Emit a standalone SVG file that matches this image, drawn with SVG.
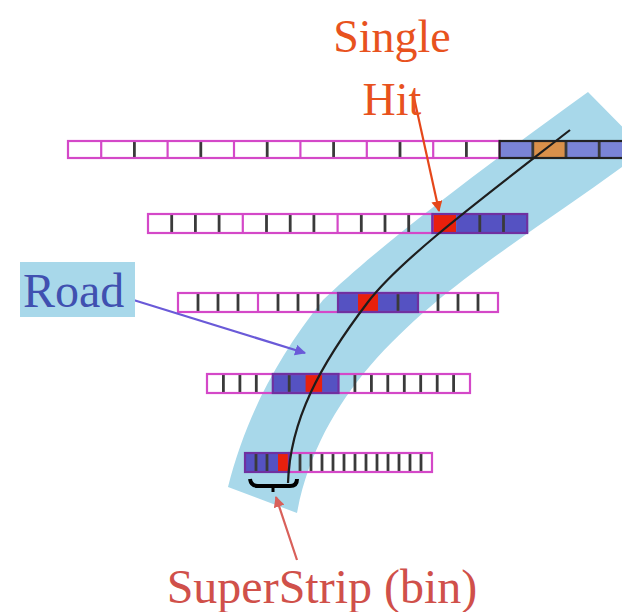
<svg xmlns="http://www.w3.org/2000/svg" width="622" height="612" viewBox="0 0 622 612">
<style>
.row{fill:none;stroke:#d448c8;stroke-width:2.2}
.seg{fill:none;stroke:#7030a0;stroke-width:2.2}
.segk{fill:none;stroke:#222;stroke-width:2.2}
.sd{stroke:#3a3a3a;stroke-width:2.8}
.sm{stroke:#d448c8;stroke-width:2.2}
.blue{fill:#5552c2}
.blue1{fill:#7a84d6}
.red{fill:#e8200c}
.org{fill:#d9904a}
.lbl{font-family:"Liberation Serif","Times New Roman",serif}
</style>
<defs>
<marker id="ahOr" viewBox="0 0 10 10" refX="9" refY="5" markerWidth="5" markerHeight="5" orient="auto-start-reverse" markerUnits="strokeWidth"><path d="M0,0 L10,5 L0,10 z" fill="#e5471a"/></marker>
<marker id="ahBl" viewBox="0 0 10 10" refX="9" refY="5" markerWidth="5" markerHeight="5" orient="auto-start-reverse" markerUnits="strokeWidth"><path d="M0,0 L10,5 L0,10 z" fill="#6a5ad8"/></marker>
<marker id="ahRd" viewBox="0 0 10 10" refX="9" refY="5" markerWidth="5" markerHeight="5" orient="auto-start-reverse" markerUnits="strokeWidth"><path d="M0,0 L10,5 L0,10 z" fill="#d9605a"/></marker>
</defs>

<g id="road-band">
<path d="M588,92 L645,150 C 500,260 330,340 297,513 L228,487 C 245,420 275,360 323,300 C 380,245 480,170 588,92 Z" fill="#a8d8ea"/>
</g>

<g id="row1">
<rect class="blue1" x="499.6" y="141" width="33.2" height="17"/>
<rect class="org" x="532.8" y="141" width="33.2" height="17"/>
<rect class="blue1" x="566" y="141" width="33.2" height="17"/>
<rect class="blue1" x="599.2" y="141" width="33.2" height="17"/>
<g>
<line class="sm" x1="101.2" y1="141" x2="101.2" y2="158"/>
<line class="sd" x1="134.4" y1="141" x2="134.4" y2="158"/>
<line class="sm" x1="167.6" y1="141" x2="167.6" y2="158"/>
<line class="sd" x1="200.8" y1="141" x2="200.8" y2="158"/>
<line class="sm" x1="234" y1="141" x2="234" y2="158"/>
<line class="sd" x1="267.2" y1="141" x2="267.2" y2="158"/>
<line class="sm" x1="300.4" y1="141" x2="300.4" y2="158"/>
<line class="sd" x1="333.6" y1="141" x2="333.6" y2="158"/>
<line class="sm" x1="366.8" y1="141" x2="366.8" y2="158"/>
<line class="sd" x1="400" y1="141" x2="400" y2="158"/>
<line class="sm" x1="433.2" y1="141" x2="433.2" y2="158"/>
<line class="sd" x1="466.4" y1="141" x2="466.4" y2="158"/>
<line class="sd" x1="532.8" y1="141" x2="532.8" y2="158"/>
<line class="sd" x1="566" y1="141" x2="566" y2="158"/>
<line class="sd" x1="599.2" y1="141" x2="599.2" y2="158"/>
</g>
<rect class="row" x="68" y="141" width="431.6" height="17"/>
<rect class="segk" x="499.6" y="141" width="132.8" height="17"/>
</g>

<g id="row2">
<rect class="red" x="432.4" y="214" width="23.7" height="19"/>
<rect class="blue" x="456.1" y="214" width="71.1" height="19"/>
<g>
<line class="sd" x1="171.7" y1="214" x2="171.7" y2="233"/>
<line class="sd" x1="195.4" y1="214" x2="195.4" y2="233"/>
<line class="sd" x1="219.1" y1="214" x2="219.1" y2="233"/>
<line class="sm" x1="242.8" y1="214" x2="242.8" y2="233"/>
<line class="sd" x1="266.5" y1="214" x2="266.5" y2="233"/>
<line class="sd" x1="290.2" y1="214" x2="290.2" y2="233"/>
<line class="sd" x1="313.9" y1="214" x2="313.9" y2="233"/>
<line class="sm" x1="337.6" y1="214" x2="337.6" y2="233"/>
<line class="sd" x1="361.3" y1="214" x2="361.3" y2="233"/>
<line class="sd" x1="385" y1="214" x2="385" y2="233"/>
<line class="sd" x1="408.7" y1="214" x2="408.7" y2="233"/>
<line class="sd" x1="479.8" y1="214" x2="479.8" y2="233"/>
<line class="sd" x1="503.5" y1="214" x2="503.5" y2="233"/>
</g>
<rect class="row" x="148" y="214" width="284.4" height="19"/>
<rect class="seg" x="432.4" y="214" width="94.8" height="19"/>
</g>

<g id="row3">
<rect class="blue" x="338" y="293" width="80" height="19"/>
<rect class="red" x="358" y="293" width="20" height="19"/>
<g>
<line class="sd" x1="198" y1="293" x2="198" y2="312"/>
<line class="sd" x1="218" y1="293" x2="218" y2="312"/>
<line class="sd" x1="238" y1="293" x2="238" y2="312"/>
<line class="sm" x1="258" y1="293" x2="258" y2="312"/>
<line class="sd" x1="278" y1="293" x2="278" y2="312"/>
<line class="sd" x1="298" y1="293" x2="298" y2="312"/>
<line class="sd" x1="318" y1="293" x2="318" y2="312"/>
<line class="sd" x1="398" y1="293" x2="398" y2="312"/>
<line class="sd" x1="438" y1="293" x2="438" y2="312"/>
<line class="sd" x1="458" y1="293" x2="458" y2="312"/>
<line class="sd" x1="478" y1="293" x2="478" y2="312"/>
</g>
<rect class="row" x="178" y="293" width="320" height="19"/>
<rect class="seg" x="338" y="293" width="80" height="19"/>
</g>

<g id="row4">
<rect class="blue" x="272.8" y="374" width="65.7" height="19"/>
<rect class="red" x="305.6" y="374" width="16.5" height="19"/>
<g>
<line class="sd" x1="223.4" y1="374" x2="223.4" y2="393"/>
<line class="sd" x1="239.9" y1="374" x2="239.9" y2="393"/>
<line class="sd" x1="256.3" y1="374" x2="256.3" y2="393"/>
<line class="sd" x1="289.2" y1="374" x2="289.2" y2="393"/>
<line class="sd" x1="354.9" y1="374" x2="354.9" y2="393"/>
<line class="sd" x1="371.4" y1="374" x2="371.4" y2="393"/>
<line class="sd" x1="387.8" y1="374" x2="387.8" y2="393"/>
<line class="sd" x1="404.3" y1="374" x2="404.3" y2="393"/>
<line class="sd" x1="420.7" y1="374" x2="420.7" y2="393"/>
<line class="sd" x1="437.2" y1="374" x2="437.2" y2="393"/>
<line class="sd" x1="453.6" y1="374" x2="453.6" y2="393"/>
</g>
<rect class="row" x="207" y="374" width="263" height="19"/>
<rect class="seg" x="272.8" y="374" width="65.7" height="19"/>
</g>

<g id="row5">
<rect class="blue" x="245" y="453" width="33" height="19"/>
<rect class="red" x="278" y="453" width="11" height="19"/>
<g>
<line class="sd" x1="256" y1="453" x2="256" y2="472"/>
<line class="sd" x1="267" y1="453" x2="267" y2="472"/>
<line class="sd" x1="300" y1="453" x2="300" y2="472"/>
<line class="sd" x1="311" y1="453" x2="311" y2="472"/>
<line class="sd" x1="322" y1="453" x2="322" y2="472"/>
<line class="sd" x1="333" y1="453" x2="333" y2="472"/>
<line class="sd" x1="344" y1="453" x2="344" y2="472"/>
<line class="sd" x1="355" y1="453" x2="355" y2="472"/>
<line class="sd" x1="366" y1="453" x2="366" y2="472"/>
<line class="sd" x1="377" y1="453" x2="377" y2="472"/>
<line class="sd" x1="388" y1="453" x2="388" y2="472"/>
<line class="sd" x1="399" y1="453" x2="399" y2="472"/>
<line class="sd" x1="410" y1="453" x2="410" y2="472"/>
<line class="sd" x1="421" y1="453" x2="421" y2="472"/>
</g>
<rect class="row" x="289" y="453" width="143" height="19"/>
<rect class="seg" x="245" y="453" width="44" height="19"/>
</g>

<g id="track">
<path d="M570,130 C 480,200 400,260 368,302 C 320,365 290,420 288,483" fill="none" stroke="#1e1e1e" stroke-width="2.2"/>
</g>

<g id="superstrip-bracket">
<path d="M250,479 Q251,486 258,486 L290,486 Q297,486 297,479" fill="none" stroke="#000" stroke-width="4"/>
<line x1="273" y1="486" x2="273" y2="492" stroke="#000" stroke-width="3"/>
</g>

<g id="connectors">
<line x1="413" y1="93" x2="439" y2="211" stroke="#e5471a" stroke-width="2.2" marker-end="url(#ahOr)"/>
<line x1="127" y1="298" x2="305" y2="353" stroke="#6a5ad8" stroke-width="2.2" marker-end="url(#ahBl)"/>
<line x1="297" y1="560" x2="276" y2="497" stroke="#d9605a" stroke-width="2.2" marker-end="url(#ahRd)"/>
</g>

<g id="label-single-hit">
<text class="lbl" x="392" y="52" font-size="46" fill="#e8521e" text-anchor="middle">Single</text>
<text class="lbl" x="392" y="115" font-size="46" fill="#e8521e" text-anchor="middle">Hit</text>
</g>

<g id="label-road">
<rect x="20" y="262" width="115" height="55" fill="#a8d8ea"/>
<text class="lbl" x="23" y="307" font-size="48" fill="#4050b0">Road</text>
</g>

<g id="label-superstrip">
<text class="lbl" x="322" y="603" font-size="48" fill="#d0504a" text-anchor="middle">SuperStrip (bin)</text>
</g>
</svg>
